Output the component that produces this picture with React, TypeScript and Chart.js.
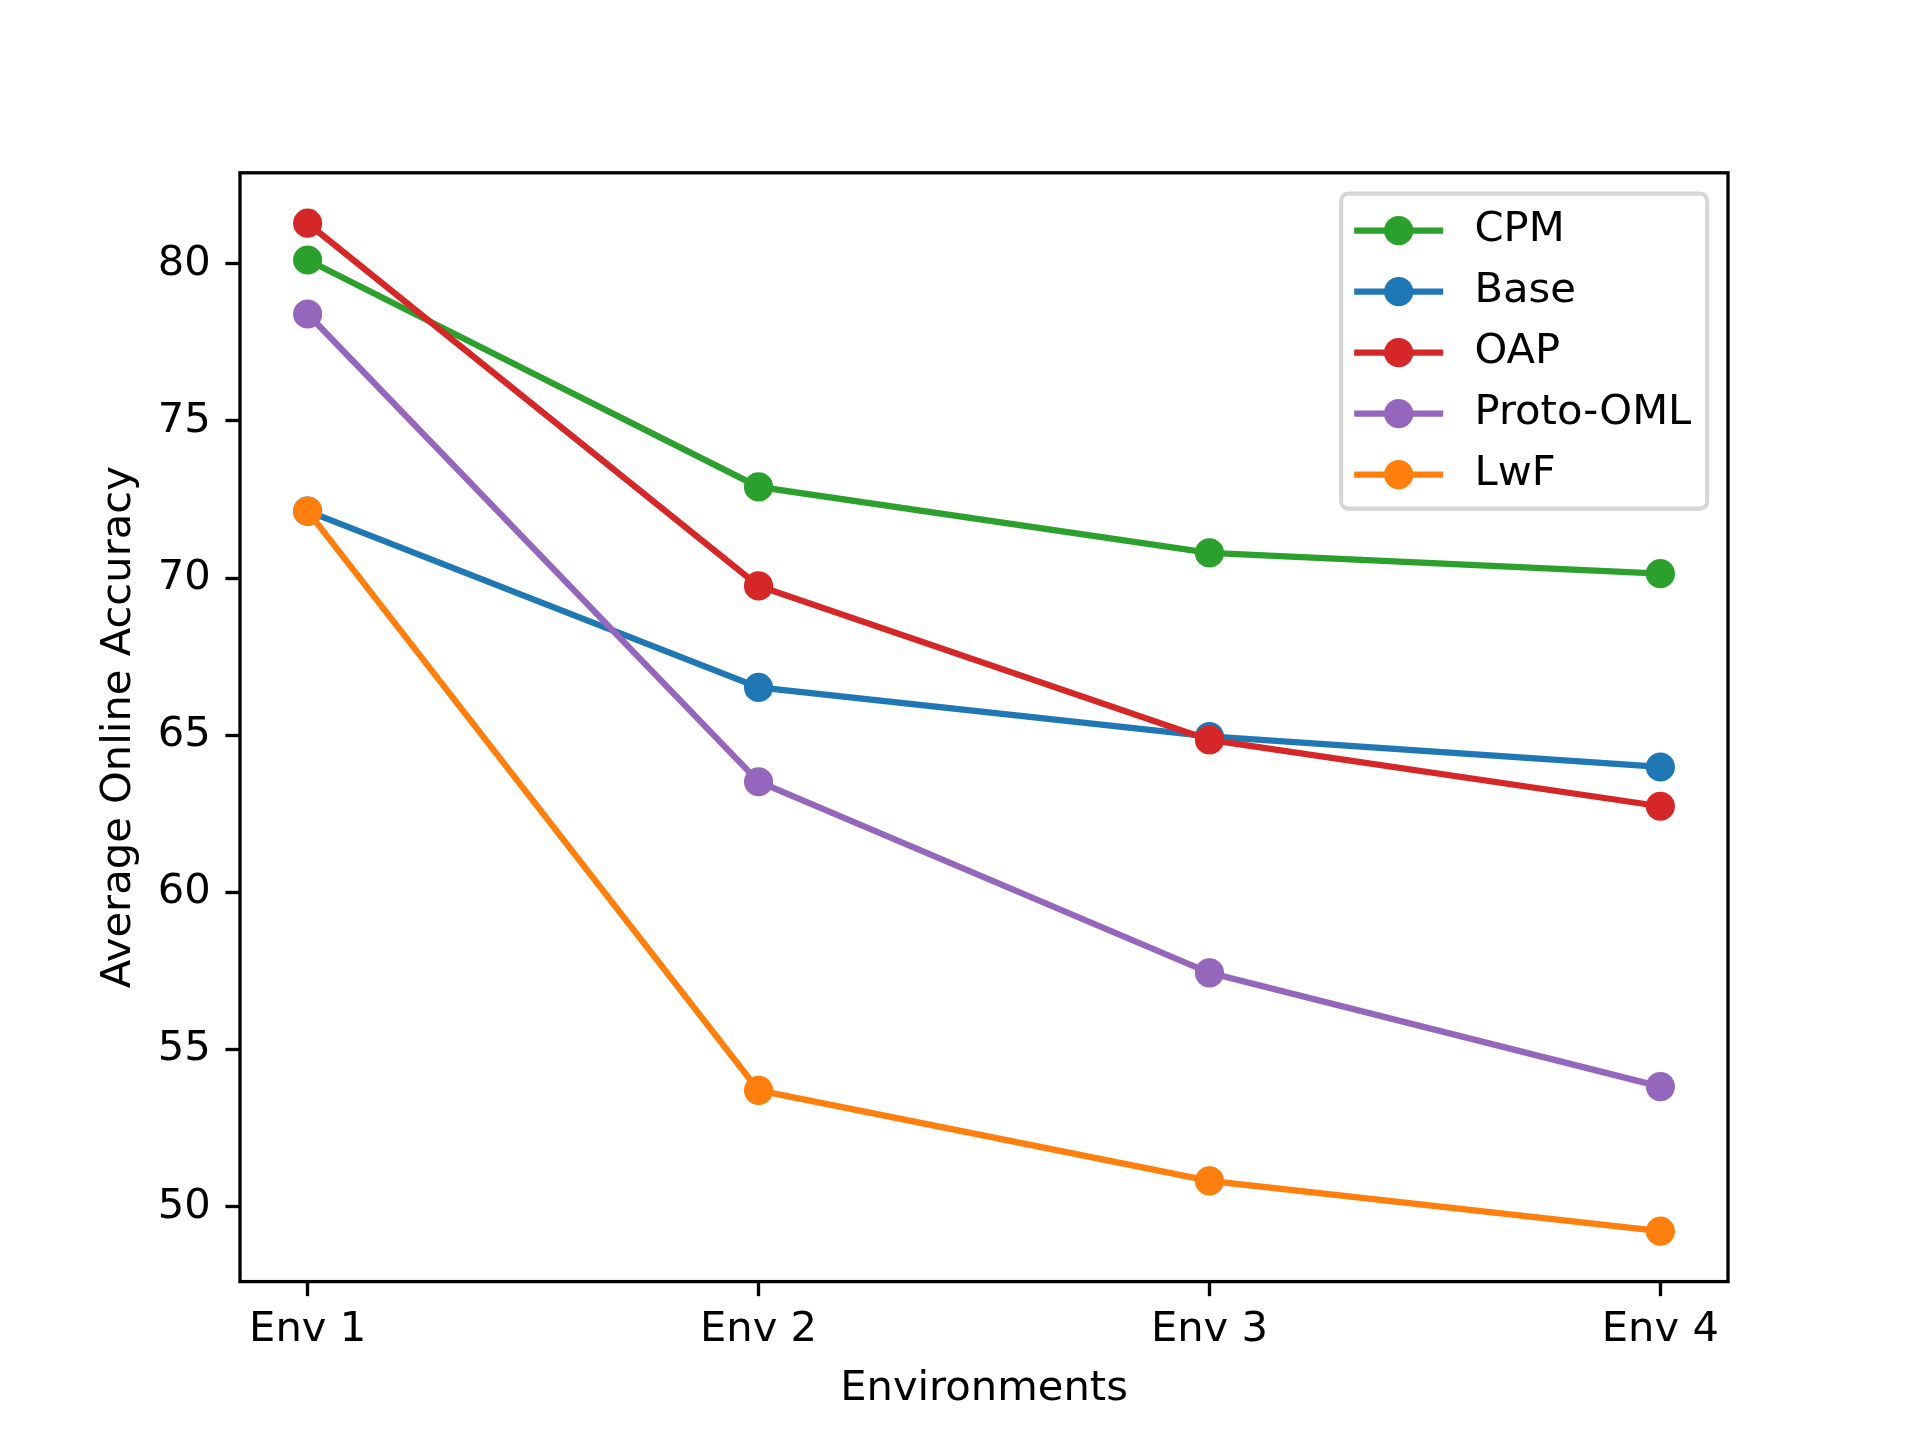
import { useEffect, useRef } from 'react'
import { Chart, registerables } from 'chart.js'

Chart.register(...registerables)

const ENVS = ['Env 1', 'Env 2', 'Env 3', 'Env 4']
const NAMES = ['CPM', 'Base', 'OAP', 'Proto-OML', 'LwF']
const COLORS = ['#2ca02c', '#1f77b4', '#d62728', '#9467bd', '#ff7f0e']

const CPM = [80.12, 72.9, 70.8, 70.14]
const BASE = [72.13, 66.52, 64.96, 63.99]
const OAP = [81.29, 69.75, 64.85, 62.74]
const PROTO_OML = [78.4, 63.52, 57.44, 53.82]
const LWF = [72.13, 53.7, 50.82, 49.22]

const Y_TICKS = [50, 55, 60, 65, 70, 75, 80]

const PT = 300 / 72 // figure is 6.4x4.8 in at 300 dpi
const FS = 10 * PT

// matplotlib style 5% margins around the data
const ALL = [...CPM, ...BASE, ...OAP, ...PROTO_OML, ...LWF]
const Y_MIN = Math.min(...ALL) - 0.05 * (Math.max(...ALL) - Math.min(...ALL))
const Y_MAX = Math.max(...ALL) + 0.05 * (Math.max(...ALL) - Math.min(...ALL))

const framePlugin = {
  id: 'frame',
  afterDraw(chart: any) {
    const { ctx, chartArea: a } = chart
    ctx.save()
    ctx.strokeStyle = '#000'
    ctx.lineWidth = 0.8 * PT
    ctx.strokeRect(a.left, a.top, a.right - a.left, a.bottom - a.top)

    // legend box in the upper right corner
    const w = 366, h = 315
    const x1 = a.right - 0.5 * FS
    const y0 = a.top + 0.5 * FS
    const x0 = x1 - w
    ctx.beginPath()
    ctx.roundRect(x0, y0, w, h, 7)
    ctx.fillStyle = 'rgba(255,255,255,0.8)'
    ctx.fill()
    ctx.strokeStyle = 'rgba(204,204,204,0.8)'
    ctx.lineWidth = PT
    ctx.stroke()

    ctx.font = `${FS}px "DejaVu Sans"`
    ctx.textBaseline = 'middle'
    ctx.textAlign = 'left'
    chart.data.datasets.forEach((ds: any, i: number) => {
      const y = y0 + 37 + i * 61
      const hx = x0 + 13
      ctx.strokeStyle = ds.borderColor
      ctx.lineWidth = 1.5 * PT
      ctx.beginPath()
      ctx.moveTo(hx, y)
      ctx.lineTo(hx + 89, y)
      ctx.stroke()
      ctx.fillStyle = ds.borderColor
      ctx.beginPath()
      ctx.arc(hx + 44.5, y, 3.5 * PT, 0, Math.PI * 2)
      ctx.fill()
      ctx.fillStyle = '#000'
      ctx.fillText(ds.label, x0 + 0.4 * FS + 2.8 * FS, y)
    })
    ctx.restore()
  },
}

export default function App() {
  const canvasRef = useRef<HTMLCanvasElement>(null)
  const chartRef = useRef<Chart | null>(null)

  useEffect(() => {
    document.body.style.margin = '0'
    if (!canvasRef.current) return
    if (chartRef.current) chartRef.current.destroy()

    Chart.defaults.font.family = '"DejaVu Sans"'
    Chart.defaults.color = '#000'

    const series = [CPM, BASE, OAP, PROTO_OML, LWF]
    const datasets = series.map((vals, i) => ({
      label: NAMES[i],
      data: vals.map((v, j) => ({ x: j, y: v })),
      borderColor: COLORS[i],
      backgroundColor: COLORS[i],
      pointBackgroundColor: COLORS[i],
      borderWidth: 1.5 * PT,
      pointRadius: 3.5 * PT,
      pointBorderWidth: 0,
      tension: 0,
      order: series.length - i,
    }))

    chartRef.current = new Chart(canvasRef.current, {
      type: 'line',
      data: { datasets },
      plugins: [framePlugin],
      options: {
        responsive: false,
        animation: false,
        devicePixelRatio: 1,
        layout: { padding: { left: 0, top: 172.8, right: 192, bottom: 0 } },
        scales: {
          x: {
            type: 'linear',
            min: -0.15,
            max: 3.15,
            afterBuildTicks: (s: any) => { s.ticks = ENVS.map((_, i) => ({ value: i })) },
            afterFit: (s: any) => { s.height = 158.4 },
            ticks: {
              callback: (v: any) => ENVS[v] ?? '',
              font: { size: FS },
              padding: 9,
              maxRotation: 0,
            },
            grid: {
              drawOnChartArea: false,
              drawTicks: true,
              tickLength: 3.5 * PT,
              tickWidth: 0.8 * PT,
              tickColor: '#000',
            },
            border: { display: false },
            title: {
              display: true,
              text: 'Environments',
              font: { size: FS },
              padding: { top: 0, bottom: 26 },
            },
          },
          y: {
            type: 'linear',
            min: Y_MIN,
            max: Y_MAX,
            afterBuildTicks: (s: any) => { s.ticks = Y_TICKS.map(v => ({ value: v })) },
            afterFit: (s: any) => { s.width = 240 },
            ticks: {
              font: { size: FS },
              padding: 3.5 * PT,
            },
            grid: {
              drawOnChartArea: false,
              drawTicks: true,
              tickLength: 3.5 * PT,
              tickWidth: 0.8 * PT,
              tickColor: '#000',
            },
            border: { display: false },
            title: {
              display: true,
              text: 'Average Online Accuracy',
              font: { size: FS },
              padding: { top: 94, bottom: 0 },
            },
          },
        },
        plugins: {
          legend: { display: false },
          tooltip: { enabled: false },
        },
      },
    })

    return () => { chartRef.current?.destroy() }
  }, [])

  return (
    <div style={{ width: '1920px', height: '1440px' }}>
      <canvas ref={canvasRef} width={1920} height={1440} style={{ display: 'block' }} />
    </div>
  )
}
